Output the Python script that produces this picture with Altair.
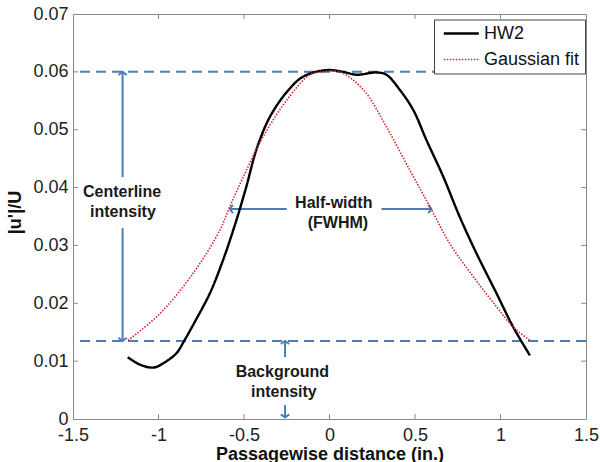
import altair as alt
import pandas as pd

# ---- data ----
hw2_x = [-1.18, -1.109, -1.027, -0.953, -0.894, -0.85, -0.78, -0.7, -0.622, -0.544, -0.486,
         -0.427, -0.349, -0.25, -0.153, -0.017, 0.08, 0.158, 0.275, 0.333, 0.411,
         0.49, 0.567, 0.665, 0.762, 0.86, 0.977, 1.074, 1.172]
hw2_y = [0.0107, 0.0094, 0.0089, 0.0100, 0.0114, 0.0135, 0.0172, 0.0217, 0.0275, 0.0344, 0.0402,
         0.0466, 0.0522, 0.0565, 0.0592, 0.0603, 0.0600, 0.0595, 0.0599, 0.0595, 0.0569,
         0.0534, 0.0482, 0.0419, 0.0349, 0.0286, 0.0217, 0.0159, 0.0110]

gauss_x = [-1.178, -0.992, -0.797, -0.642, -0.583, -0.486, -0.388, -0.25, -0.115, -0.04,
           0.06, 0.198, 0.333, 0.47, 0.587, 0.704, 0.841, 0.977, 1.074, 1.172]
gauss_y = [0.0136, 0.0182, 0.0252, 0.0326, 0.0367, 0.0430, 0.0488, 0.0551, 0.0595, 0.0600,
           0.0600, 0.0569, 0.0505, 0.0430, 0.0367, 0.0303, 0.0246, 0.0194, 0.0159, 0.0136]

series_names = ["HW2", "Gaussian fit"]

# reference levels (dashed lines)
levels = [0.06, 0.0135]

# arrow shafts: x, y -> x2, y2
shaft_x = [-1.21, -1.21, -0.25, 0.304, -0.26, -0.26]
shaft_y = [0.0598, 0.0330, 0.0363, 0.0363, 0.0107, 0.0024]
shaft_x2 = [-1.21, -1.21, -0.583, 0.596, -0.26, -0.26]
shaft_y2 = [0.0418, 0.0136, 0.0363, 0.0363, 0.0133, 0.0003]

# arrow heads: tip position and direction angle
head_x = [-1.21, -1.21, -0.583, 0.596, -0.26, -0.26]
head_y = [0.0600, 0.0135, 0.0363, 0.0363, 0.0135, 0.00025]
head_angle = [0, 180, 270, 90, 0, 180]

# annotation texts
note_text = ["Centerline", "intensity", "Half-width", "(FWHM)", "Background", "intensity"]
note_x = [-1.213, -1.208, 0.025, 0.049, -0.276, -0.267]
note_y = [0.0392, 0.0358, 0.0373, 0.0338, 0.0081, 0.0047]

x_ticks = [-1.5, -1.0, -0.5, 0.0, 0.5, 1.0, 1.5]
y_ticks = [0.0, 0.01, 0.02, 0.03, 0.04, 0.05, 0.06, 0.07]
x_inner = [-1.0, -0.5, 0.0, 0.5, 1.0]
y_inner = [0.01, 0.02, 0.03, 0.04, 0.05, 0.06]

# ---- tables ----
curves = pd.concat([
    pd.DataFrame({"x": hw2_x, "y": hw2_y, "series": "HW2", "o": range(len(hw2_x))}),
    pd.DataFrame({"x": gauss_x, "y": gauss_y, "series": "Gaussian fit", "o": range(len(gauss_x))}),
])
lev_df = pd.DataFrame({"y": levels})
shaft_df = pd.DataFrame({"x": shaft_x, "y": shaft_y, "x2": shaft_x2, "y2": shaft_y2})
head_df = pd.DataFrame({"x": head_x, "y": head_y, "a": head_angle})
note_df = pd.DataFrame({"t": note_text, "x": note_x, "y": note_y})
xin_df = pd.DataFrame({"x": x_inner})
yin_df = pd.DataFrame({"y": y_inner})

FONT = "Liberation Sans"
BLUE = "#4a7ebb"
GRAY = "#8a8a8a"
W, H = 513, 405

xscale = alt.Scale(domain=[-1.5, 1.5], nice=False, zero=False)
yscale = alt.Scale(domain=[0, 0.07], nice=False, zero=False)

xaxis = alt.Axis(values=x_ticks, labelExpr="'' + datum.value", tickSize=0, labelPadding=7,
                 labelFlush=False, labelOverlap=False,
                 labelFont=FONT, labelFontSize=18, labelColor="#222", domainColor=GRAY,
                 grid=False, title="Passagewise distance (in.)", titleFont=FONT,
                 titleFontSize=18, titleFontWeight="bold", titleColor="#111",
                 titleBaseline="alphabetic", titleY=40, titleX=W / 2)
yaxis = alt.Axis(values=y_ticks,
                 labelExpr="datum.value == 0 ? '0' : format(datum.value, '.2f')",
                 labelFlush=False, labelOverlap=False,
                 tickSize=0, labelPadding=5, labelFont=FONT, labelFontSize=18,
                 labelColor="#222", domainColor=GRAY, grid=False, title="|u'|/U",
                 titleFont=FONT, titleFontSize=18, titleFontWeight="bold", titleColor="#111",
                 titleX=-58, titleY=198, titleAngle=270, titleBaseline="middle")

lines = alt.Chart(curves).mark_line(interpolate="catmull-rom").encode(
    x=alt.X("x:Q", scale=xscale, axis=xaxis),
    y=alt.Y("y:Q", scale=yscale, axis=yaxis),
    color=alt.Color("series:N", scale=alt.Scale(domain=series_names, range=["#000000", "#cc2a2a"]),
                    legend=alt.Legend(title=None)),
    strokeDash=alt.StrokeDash("series:N", scale=alt.Scale(domain=series_names, range=[[1, 0], [1.5, 1.5]]),
                              legend=alt.Legend(title=None)),
    strokeWidth=alt.StrokeWidth("series:N", scale=alt.Scale(domain=series_names, range=[2.4, 1.6]),
                                legend=None),
    order="o:Q",
)

dashed = alt.Chart(lev_df).mark_rule(color=BLUE, strokeWidth=2, strokeDash=[10, 6]).encode(
    y=alt.Y("y:Q", scale=yscale)
)

shafts = alt.Chart(shaft_df).mark_rule(color=BLUE, strokeWidth=2).encode(
    x=alt.X("x:Q", scale=xscale), y=alt.Y("y:Q", scale=yscale), x2="x2:Q", y2="y2:Q"
)

heads = alt.Chart(head_df).mark_point(
    shape="M-1,0.75L0,0L1,0.75", filled=False, color=BLUE, strokeWidth=2, size=70, opacity=1
).encode(
    x=alt.X("x:Q", scale=xscale), y=alt.Y("y:Q", scale=yscale), angle=alt.Angle("a:Q", scale=None)
)

notes = alt.Chart(note_df).mark_text(
    font=FONT, fontSize=16, fontWeight="bold", color="#1a1a1a", align="center", baseline="middle"
).encode(x=alt.X("x:Q", scale=xscale), y=alt.Y("y:Q", scale=yscale), text="t:N")

ticks_bottom = alt.Chart(xin_df).mark_rule(color=GRAY).encode(
    x=alt.X("x:Q", scale=xscale), y=alt.value(H), y2=alt.value(H - 5))
ticks_top = alt.Chart(xin_df).mark_rule(color=GRAY).encode(
    x=alt.X("x:Q", scale=xscale), y=alt.value(0), y2=alt.value(5))
ticks_left = alt.Chart(yin_df).mark_rule(color=GRAY).encode(
    y=alt.Y("y:Q", scale=yscale), x=alt.value(0), x2=alt.value(5))
ticks_right = alt.Chart(yin_df).mark_rule(color=GRAY).encode(
    y=alt.Y("y:Q", scale=yscale), x=alt.value(W), x2=alt.value(W - 5))

chart = alt.layer(
    ticks_bottom, ticks_top, ticks_left, ticks_right,
    dashed, shafts, heads, notes, lines
).properties(
    width=W, height=H,
    padding={"left": 73, "top": 14, "right": 14, "bottom": 43},
    autosize=alt.AutoSizeParams(type="none"),
).configure_view(
    stroke=GRAY, strokeWidth=1
).configure_legend(
    orient="none", legendX=361, legendY=5.5, fillColor="white", strokeColor="#444",
    padding=5, labelFont=FONT, labelFontSize=18, labelColor="#111",
    symbolType="M-0.6,0H4.4", symbolSize=196, symbolStrokeWidth=2,
    rowPadding=8, labelOffset=27, cornerRadius=0
)

chart.save("out.html", embed_options={"renderer": "svg", "actions": False})
